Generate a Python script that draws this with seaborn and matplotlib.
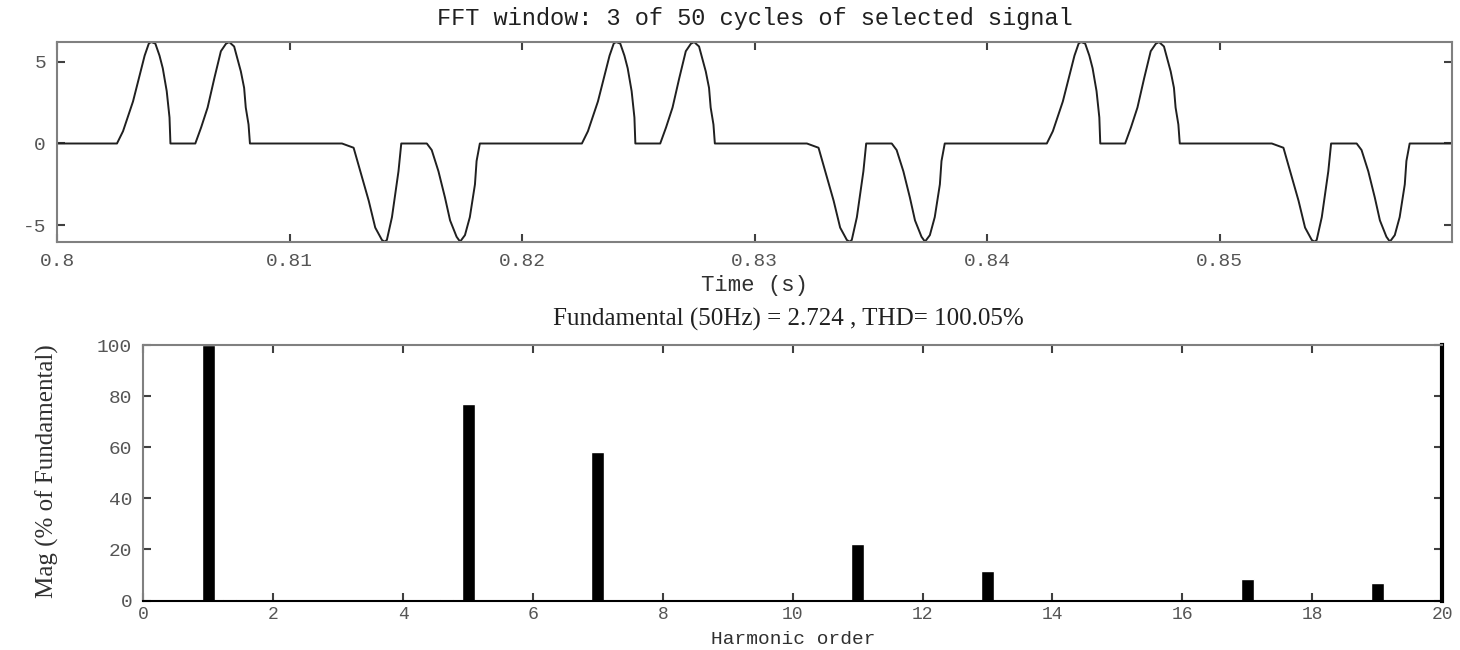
import numpy as np
import matplotlib
matplotlib.use('Agg')
import matplotlib.pyplot as plt
import seaborn as sns

# ---- data ----
# start time of each of the 3 cycles shown in the FFT window (s)
cycle_starts = [0.80, 0.82, 0.84]

# one cycle of the selected signal: time from cycle start (ms) and value
cycle_t_ms = [0.00, 2.57, 2.83, 3.26, 3.54, 3.76, 3.94, 4.04, 4.22, 4.40, 4.54, 4.71, 4.83, 4.87,
              5.94, 6.19, 6.47, 6.76, 7.04, 7.26, 7.40, 7.61, 7.90, 8.04, 8.11, 8.23, 8.29,
              12.25, 12.75, 13.04, 13.40, 13.68, 13.97, 14.08, 14.18, 14.40, 14.54, 14.68, 14.80,
              15.90, 16.11, 16.40, 16.68, 16.90, 17.18, 17.33, 17.54, 17.75, 17.97, 18.04, 18.18,
              20.00]
cycle_v = [0.0, 0.0, 0.75, 2.57, 4.15, 5.37, 6.11, 6.20, 6.11, 5.37, 4.60, 3.20, 1.59, 0.0,
           0.0, 0.98, 2.20, 4.00, 5.64, 6.10, 6.20, 5.93, 4.40, 3.40, 2.20, 1.16, 0.0,
           0.0, -0.26, -1.70, -3.50, -5.14, -5.90, -6.00, -5.90, -4.50, -3.10, -1.70, 0.0,
           0.0, -0.40, -1.70, -3.30, -4.70, -5.70, -6.00, -5.60, -4.50, -2.50, -1.07, 0.0,
           0.0]

# harmonic spectrum (% of fundamental)
harm_order = [1, 1.333, 4.667, 5, 7, 11, 13, 17, 19]
harm_mag = [100, 0.8, 0.7, 77, 58.3, 22.2, 11.6, 8.3, 7.0]

time_ticks = [0.80, 0.81, 0.82, 0.83, 0.84, 0.85]
time_labels = ['0.8', '0.81', '0.82', '0.83', '0.84', '0.85']
sig_ticks = [-5, 0, 5]
sig_labels = ['-5', '0', '5']
order_ticks = [0, 2, 4, 6, 8, 10, 12, 14, 16, 18, 20]
mag_ticks = [0, 20, 40, 60, 80, 100]

# build the 3-cycle waveform from the per-cycle readings
t_all = []
v_all = []
for start in cycle_starts:
    for tm, v in zip(cycle_t_ms, cycle_v):
        t_all.append(start + tm / 1000.0)
        v_all.append(v)

sns.set_theme(style='white')
plt.rcParams['font.family'] = ['Liberation Mono', 'DejaVu Sans Mono']

fig = plt.figure(figsize=(14.6, 6.5), dpi=100)
ax1 = fig.add_axes([0.0392, 0.6282, 0.9553, 0.3076])
ax2 = fig.add_axes([0.0982, 0.0760, 0.8895, 0.3932])

spine_col = '#808080'
tick_col = '#555555'

# top: time signal
sns.lineplot(x=t_all, y=v_all, sort=False, estimator=None, color='#202020', lw=1.4, ax=ax1)
ax1.set_xlim(0.80, 0.86)
ax1.set_ylim(-6.0, 6.22)
ax1.set_xticks(time_ticks)
ax1.set_xticklabels(time_labels)
ax1.set_yticks(sig_ticks)
ax1.set_yticklabels(sig_labels)
ax1.set_xlabel('')
ax1.set_ylabel('')
for s in ax1.spines.values():
    s.set_color(spine_col)
    s.set_linewidth(1.5)
    s.set_visible(True)
ax1.tick_params(direction='in', top=True, right=True, bottom=True, left=True,
                length=6, width=1.5, color='#404040', labelcolor=tick_col,
                labelsize=14, pad=8)

# bottom: spectrum
sns.barplot(x=harm_order, y=harm_mag, native_scale=True, width=0.6,
            color='black', saturation=1, ax=ax2)
ax2.axhline(0, color='black', lw=1.8, zorder=3)
ax2.set_xlim(0, 20)
ax2.set_ylim(0, 100)
ax2.set_xticks(order_ticks)
ax2.set_xticklabels([str(v) for v in order_ticks])
ax2.set_yticks(mag_ticks)
ax2.set_yticklabels([str(v) for v in mag_ticks])
ax2.set_xlabel('')
ax2.set_ylabel('')
for name, s in ax2.spines.items():
    s.set_visible(True)
    s.set_color(spine_col)
    s.set_linewidth(1.5)
ax2.spines['right'].set_color('black')
ax2.spines['right'].set_linewidth(3)
ax2.spines['bottom'].set_color('black')
ax2.tick_params(direction='in', top=True, right=True, bottom=True, left=True,
                length=6, width=1.5, color='#404040', labelcolor=tick_col,
                labelsize=14, pad=8)
ax2.tick_params(axis='x', pad=4, labelsize=13)

# texts
fig.text(0.517, 0.972, 'FFT window: 3 of 50 cycles of selected signal',
         ha='center', va='center', fontsize=17, color='#202020')
fig.text(0.517, 0.561, 'Time (s)', ha='center', va='center', fontsize=16, color='#303030')
fig.text(0.54, 0.508, 'Fundamental (50Hz) = 2.724 , THD= 100.05%',
         ha='center', va='center', fontsize=18, color='#202020',
         family=['Liberation Serif', 'DejaVu Serif'])
fig.text(0.543, 0.003, 'Harmonic order', ha='center', va='bottom', fontsize=14, color='#303030')
fig.text(0.0325, 0.275, 'Mag (% of Fundamental)', ha='center', va='center', rotation=90,
         fontsize=18, color='#303030', family=['Liberation Serif', 'DejaVu Serif'])

fig.savefig('out.png', dpi=100, facecolor='white')
